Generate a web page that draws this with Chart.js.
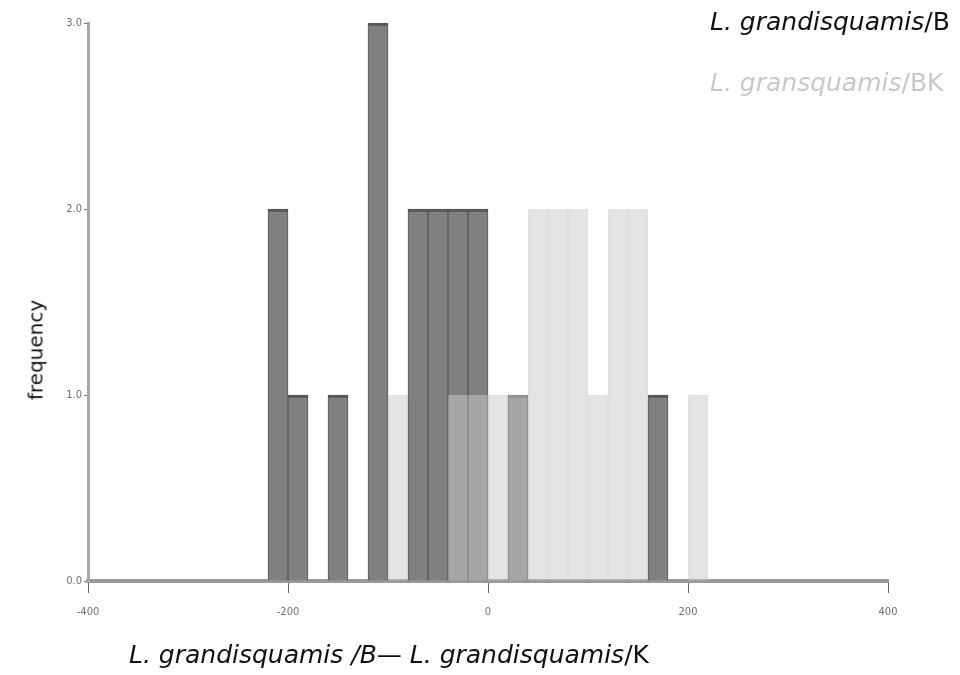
<!DOCTYPE html>
<html>
<head>
<meta charset="utf-8">
<script src="https://cdn.jsdelivr.net/npm/chart.js@4.4.0/dist/chart.umd.min.js"></script>
<style>
  body { margin: 0; background: #fff; }
  #wrap { position: relative; width: 960px; height: 675px; overflow: hidden; font-family: "DejaVu Sans", sans-serif; }
  #chart { position: absolute; left: 0; top: 0; }
  .lbl { position: absolute; white-space: nowrap; font-size: 25px; line-height: 25px; }
  .lbl i { font-style: italic; }
  #legB { left: 710px; top: 9px; color: #111; }
  #legBK { left: 710px; top: 70px; color: #c8c8c8; }
  #xTitle { left: 129px; top: 642px; color: #111; }
  #yTitle { left: 36px; top: 350px; color: #111; font-size: 20px; transform: translate(-50%, -50%) rotate(-90deg); }
</style>
</head>
<body>
<div id="wrap">
  <canvas id="chart" width="960" height="675"></canvas>
  <div class="lbl" id="legB"><i>L. grandisquamis</i>/B</div>
  <div class="lbl" id="legBK"><i>L. gransquamis</i>/BK</div>
  <div class="lbl" id="xTitle"><i>L. grandisquamis /B</i>— <i>L. grandisquamis</i>/K</div>
  <div class="lbl" id="yTitle">frequency</div>
</div>
<script>
// histogram bins (left edge of each 20-wide bin) and their counts
var binWidth = 20;
var bLeft = [-220, -200, -160, -120, -80, -60, -40, -20, 20, 160];
var bCount = [2, 1, 1, 3, 2, 2, 2, 2, 1, 1];
var bkLeft = [-100, -40, -20, 0, 20, 40, 60, 80, 100, 120, 140, 200];
var bkCount = [1, 1, 1, 1, 1, 2, 2, 2, 1, 2, 2, 1];
var yTicks = [0, 1, 2, 3];
var xTicks = [-400, -200, 0, 200, 400];

function toPoints(lefts, counts) {
    return lefts.map(function(l, i) {
        return { x: l + binWidth / 2, y: counts[i] };
    });
}

var tickFont = { family: "'DejaVu Sans Condensed', 'DejaVu Sans', sans-serif", size: 11 };

new Chart(document.getElementById('chart'), {
    type: 'bar',
    data: {
        datasets: [{
            label: 'L. grandisquamis/B',
            data: toPoints(bLeft, bCount),
            backgroundColor: '#808080',
            borderColor: '#555555',
            borderWidth: { top: 3, left: 1, right: 1, bottom: 0 },
            borderSkipped: false,
            order: 1
        }, {
            label: 'L. gransquamis/BK',
            data: toPoints(bkLeft, bkCount),
            backgroundColor: 'rgba(202,202,202,0.51)',
            borderColor: 'rgba(185,185,185,0.35)',
            borderWidth: { top: 0, left: 1, right: 1, bottom: 0 },
            borderSkipped: false,
            order: 0
        }]
    },
    options: {
        responsive: false,
        animation: false,
        grouped: false,
        barPercentage: 1,
        categoryPercentage: 1,
        layout: { padding: { top: 23, right: 72, left: 0, bottom: 0 } },
        plugins: {
            legend: { display: false },
            tooltip: { enabled: false }
        },
        scales: {
            x: {
                type: 'linear',
                offset: false,
                min: -400,
                max: 400,
                afterBuildTicks: function(s) { s.ticks = xTicks.map(function(v) { return { value: v }; }); },
                afterFit: function(s) { s.height = 94; },
                border: { color: '#9a9a9a', width: 4 },
                grid: { offset: false, drawOnChartArea: false, tickLength: 12, color: '#666' },
                ticks: { font: tickFont, color: '#707070', padding: 13, maxRotation: 0 }
            },
            y: {
                min: 0,
                max: 3,
                afterBuildTicks: function(s) { s.ticks = yTicks.map(function(v) { return { value: v }; }); },
                afterFit: function(s) { s.width = 88; },
                border: { color: '#a8a8a8', width: 3 },
                grid: { drawOnChartArea: false, tickLength: 4, color: '#777' },
                ticks: {
                    font: tickFont,
                    color: '#707070',
                    padding: 2,
                    callback: function(v) { return v.toFixed(1); }
                }
            }
        }
    }
});
</script>
</body>
</html>
